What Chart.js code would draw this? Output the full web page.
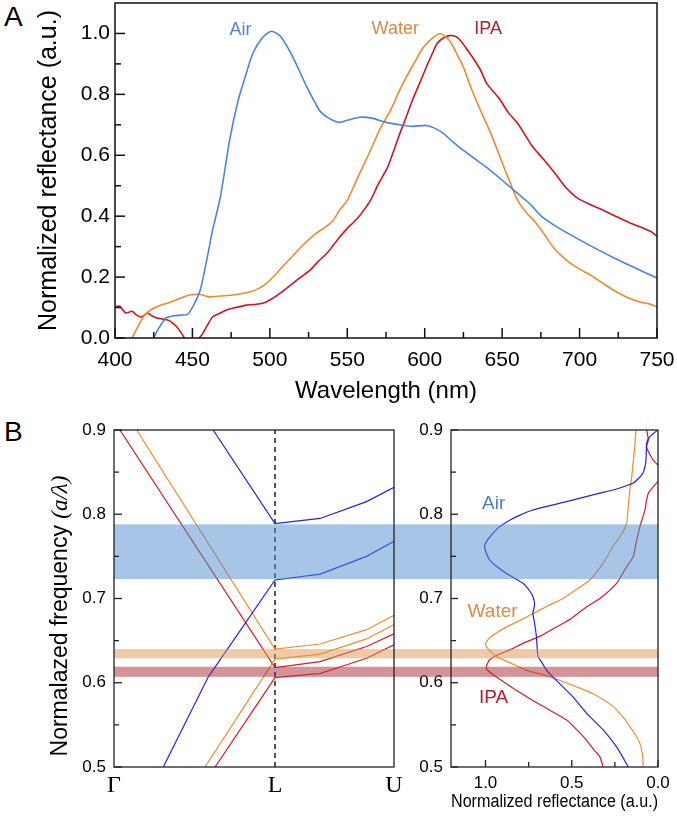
<!DOCTYPE html>
<html>
<head>
<meta charset="utf-8">
<script src="https://cdn.jsdelivr.net/npm/chart.js@4.4.0/dist/chart.umd.min.js"></script>
<style>
  body { margin: 0; background: #fff; width: 677px; height: 816px; position: relative; overflow: hidden; font-family: "Liberation Sans", Arial, sans-serif; }
  canvas { position: absolute; }
  .panel { position: absolute; font-size: 28px; line-height: 1; color: #000; }
</style>
</head>
<body>
<div class="panel" style="left:4px; top:3px">A</div>
<div class="panel" style="left:4px; top:418px">B</div>
<canvas id="grafA" width="677" height="410" style="left:0; top:0"></canvas>
<canvas id="grafB1" width="410" height="406" style="left:0; top:410px"></canvas>
<canvas id="grafB2" width="267" height="406" style="left:410px; top:410px"></canvas>
<script>
// --- DATOS PANEL A (espectros de reflectancia) ---
const airNm = [425, 428, 433, 438, 443, 447, 451, 455, 459, 463, 468, 474, 479.5, 484, 489, 495, 501, 507, 515, 524, 532, 538, 545, 550, 558, 566, 575, 584, 592, 601, 606, 612, 618, 625, 632, 640, 650, 660, 668, 676, 687, 698, 710, 721, 735, 750];
const airR  = [0, 0.03, 0.066, 0.073, 0.075, 0.078, 0.11, 0.157, 0.25, 0.354, 0.462, 0.649, 0.78, 0.856, 0.934, 0.985, 1.007, 0.99, 0.921, 0.823, 0.748, 0.722, 0.708, 0.715, 0.725, 0.722, 0.708, 0.7, 0.695, 0.698, 0.69, 0.672, 0.645, 0.616, 0.59, 0.56, 0.518, 0.475, 0.44, 0.397, 0.36, 0.328, 0.295, 0.266, 0.232, 0.197];

const waterNm = [411, 413, 416, 419, 423, 428, 434, 441, 448, 455, 461, 468, 476, 487, 493, 498, 503, 508, 514, 520, 525, 530, 536, 541, 545, 550, 557, 565, 571, 578, 583, 588, 594, 599, 605, 610, 616, 620, 625, 630, 636, 642, 647, 652, 656, 660, 666, 672, 678, 683, 690, 694, 700, 707, 715, 724, 731, 739, 745, 750];
const waterR  = [0, 0.02, 0.049, 0.075, 0.092, 0.105, 0.115, 0.128, 0.141, 0.143, 0.135, 0.138, 0.141, 0.151, 0.163, 0.18, 0.205, 0.233, 0.265, 0.298, 0.322, 0.344, 0.365, 0.387, 0.42, 0.452, 0.53, 0.616, 0.685, 0.748, 0.805, 0.856, 0.91, 0.954, 0.985, 1.0, 0.977, 0.94, 0.889, 0.82, 0.748, 0.68, 0.616, 0.55, 0.5, 0.452, 0.41, 0.377, 0.335, 0.298, 0.262, 0.246, 0.226, 0.207, 0.18, 0.151, 0.133, 0.118, 0.112, 0.102];

const ipaNm = [400, 403, 407, 411, 414, 417, 421, 424, 427, 431, 434, 437, 440, 443, 446, 450, 453, 456, 460, 463, 468, 472, 478, 485, 490, 496, 500, 505, 510, 515, 520, 526, 531, 537, 541, 545, 550, 556, 560, 565, 570, 576, 580, 584, 588, 592, 597, 601, 605, 608, 612, 616, 620, 623, 627, 631, 636, 640, 645, 649, 654, 660, 665, 670, 677, 685, 691, 698, 706, 715, 724, 733, 741, 746, 750];
const ipaR  = [0.102, 0.105, 0.082, 0.088, 0.075, 0.069, 0.082, 0.072, 0.066, 0.062, 0.059, 0.05, 0.036, 0.015, -0.01, -0.03, -0.01, 0.01, 0.045, 0.069, 0.082, 0.092, 0.1, 0.108, 0.11, 0.115, 0.125, 0.141, 0.16, 0.18, 0.2, 0.223, 0.25, 0.279, 0.305, 0.331, 0.36, 0.39, 0.415, 0.452, 0.505, 0.56, 0.615, 0.672, 0.725, 0.78, 0.84, 0.889, 0.935, 0.967, 0.985, 0.993, 0.99, 0.977, 0.95, 0.921, 0.88, 0.836, 0.805, 0.78, 0.74, 0.705, 0.665, 0.626, 0.585, 0.535, 0.495, 0.462, 0.44, 0.42, 0.398, 0.377, 0.361, 0.35, 0.334];

const wlTicks = [400, 425, 450, 475, 500, 525, 550, 575, 600, 625, 650, 675, 700, 725, 750];
const reflTicksA = [0, 0.1, 0.2, 0.3, 0.4, 0.5, 0.6, 0.7, 0.8, 0.9, 1.0];

// --- DATOS PANEL B izquierda (bandas) ---
const kPos = [0, 0.575, 1];
const kLabels = ['Γ', 'L', 'U'];
const airBandUpK = [0.354, 0.575, 0.736, 0.902, 1.0];
const airBandUpF = [0.9, 0.789, 0.795, 0.815, 0.832];
const airBandLoK = [0.176, 0.337, 0.575, 0.736, 0.902, 1.0];
const airBandLoF = [0.5, 0.607, 0.722, 0.729, 0.75, 0.768];
const waterBandUpK = [0.081, 0.575, 0.736, 0.902, 1.0];
const waterBandUpF = [0.9, 0.64, 0.646, 0.663, 0.68];
const waterBandLoK = [0.325, 0.575, 0.736, 0.902, 1.0];
const waterBandLoF = [0.5, 0.628, 0.634, 0.652, 0.669];
const ipaBandUpK = [0.021, 0.575, 0.736, 0.902, 1.0];
const ipaBandUpF = [0.9, 0.618, 0.625, 0.643, 0.658];
const ipaBandLoK = [0.361, 0.575, 0.736, 0.902, 1.0];
const ipaBandLoF = [0.5, 0.606, 0.611, 0.629, 0.645];
const freqTicks = [0.5, 0.55, 0.6, 0.65, 0.7, 0.75, 0.8, 0.85, 0.9];

// gaps (bandas prohibidas)
const gapLo = [0.723, 0.629, 0.607];
const gapHi = [0.788, 0.640, 0.619];

// --- DATOS PANEL B derecha (reflectancia vs frecuencia) ---
const airFreq = [0.9, 0.892, 0.884, 0.872, 0.86, 0.848, 0.837, 0.83, 0.825, 0.815, 0.805, 0.799, 0.793, 0.785, 0.777, 0.769, 0.762, 0.754, 0.746, 0.738, 0.73, 0.718, 0.708, 0.702, 0.694, 0.688, 0.682, 0.67, 0.655, 0.64, 0.631, 0.623, 0.615, 0.607, 0.599, 0.583, 0.564, 0.544, 0.524, 0.512, 0.5];
const airRefl = [0.002, 0.047, 0.066, 0.068, 0.072, 0.09, 0.143, 0.24, 0.337, 0.531, 0.725, 0.8, 0.86, 0.92, 0.958, 0.99, 1.006, 0.995, 0.977, 0.935, 0.88, 0.783, 0.74, 0.725, 0.715, 0.72, 0.725, 0.715, 0.705, 0.7, 0.695, 0.67, 0.647, 0.61, 0.57, 0.492, 0.415, 0.318, 0.24, 0.205, 0.173];
const waterFreq = [0.9, 0.88, 0.864, 0.845, 0.829, 0.81, 0.789, 0.775, 0.762, 0.742, 0.722, 0.711, 0.7, 0.691, 0.682, 0.674, 0.666, 0.66, 0.655, 0.65, 0.645, 0.638, 0.631, 0.623, 0.615, 0.609, 0.603, 0.595, 0.587, 0.579, 0.572, 0.56, 0.548, 0.538, 0.528, 0.515, 0.5];
const waterRefl = [0.128, 0.135, 0.143, 0.152, 0.163, 0.172, 0.182, 0.215, 0.26, 0.318, 0.395, 0.47, 0.55, 0.64, 0.725, 0.8, 0.88, 0.93, 0.967, 0.99, 1.0, 0.975, 0.938, 0.85, 0.764, 0.66, 0.57, 0.47, 0.376, 0.31, 0.26, 0.205, 0.163, 0.13, 0.105, 0.09, 0.085];
const ipaFreq = [0.9, 0.888, 0.88, 0.87, 0.864, 0.858, 0.848, 0.839, 0.832, 0.825, 0.815, 0.805, 0.785, 0.768, 0.75, 0.735, 0.718, 0.7, 0.69, 0.675, 0.665, 0.655, 0.647, 0.639, 0.633, 0.627, 0.617, 0.607, 0.599, 0.591, 0.582, 0.572, 0.556, 0.544, 0.532, 0.52, 0.512, 0.5];
const ipaRefl = [0.066, 0.056, 0.066, 0.045, 0.027, 0.0, -0.03, 0.0, 0.03, 0.056, 0.068, 0.076, 0.105, 0.125, 0.143, 0.19, 0.24, 0.337, 0.415, 0.512, 0.6, 0.686, 0.78, 0.86, 0.93, 0.977, 0.996, 0.938, 0.88, 0.822, 0.75, 0.667, 0.531, 0.47, 0.415, 0.37, 0.337, 0.318];
const reflTicksB = [0, 0.25, 0.5, 0.75, 1.0];

// --- ESTILO ---
const SANS = '"Liberation Sans", Arial, sans-serif';
const SERIF = '"Liberation Serif", "Times New Roman", serif';
const colAirA = '#4a84e2', colWaterA = '#ec8b2c', colIpaA = '#cf1420';
const colAirB = '#2323dc', colWaterB = '#f08c30', colIpaB = '#d41c22';
const gapColors = ['rgba(80,140,205,0.5)', 'rgba(222,150,80,0.5)', 'rgba(170,40,50,0.5)'];

const pts = (xs, ys) => xs.map((x, i) => ({ x: x, y: ys[i] }));
const linea = (data, color, width, tension) => ({ data: data, borderColor: color, borderWidth: width, showLine: true, pointRadius: 0, fill: false, tension: tension || 0 });

// plugin: marco, ticks hacia dentro, gaps y etiquetas de texto
const marcoPlugin = {
  id: 'marco',
  afterDatasetsDraw(chart, args, opts) {
    if (!opts.gaps) return;
    const { ctx, chartArea: a } = chart;
    const sy = chart.scales.y;
    const x0 = opts.gaps === 'right' ? a.left : 0;
    const x1 = opts.gaps === 'right' ? chart.width : a.right;
    ctx.save();
    gapLo.forEach((lo, i) => {
      const yTop = sy.getPixelForValue(gapHi[i]);
      const yBot = sy.getPixelForValue(lo);
      ctx.fillStyle = gapColors[i];
      ctx.fillRect(x0, yTop, x1 - x0, yBot - yTop);
    });
    ctx.restore();
  },
  afterDraw(chart, args, opts) {
    const { ctx, chartArea: a } = chart;
    ctx.save();
    ctx.strokeStyle = opts.color || '#111';
    ctx.lineWidth = opts.width || 1.4;
    ctx.strokeRect(a.left, a.top, a.right - a.left, a.bottom - a.top);
    ['x', 'y'].forEach(ax => {
      if (opts.noTicks === ax) return;
      const s = chart.scales[ax];
      s.ticks.forEach(t => {
        const len = t.label !== '' ? opts.major : opts.minor;
        const p = s.getPixelForValue(t.value);
        ctx.beginPath();
        if (ax === 'x') { ctx.moveTo(p, a.bottom); ctx.lineTo(p, a.bottom - len); }
        else { ctx.moveTo(a.left, p); ctx.lineTo(a.left + len, p); }
        ctx.stroke();
      });
    });
    (opts.labels || []).forEach(l => {
      ctx.font = l.size + 'px ' + SANS;
      ctx.fillStyle = l.color;
      ctx.textAlign = 'center';
      ctx.textBaseline = 'middle';
      ctx.fillText(l.text, chart.scales.x.getPixelForValue(l.x), chart.scales.y.getPixelForValue(l.y));
    });
    ctx.restore();
  }
};
Chart.register(marcoPlugin);

const fijarEje = (size, horizontal) => s => {
  if (horizontal) s.height = size; else s.width = size;
  s.paddingTop = 0; s.paddingBottom = 0; s.paddingLeft = 0; s.paddingRight = 0;
};
const ponerTicks = lista => s => { s.ticks = lista.map(v => ({ value: v })); };
const comun = { responsive: false, animation: false, devicePixelRatio: 1 };

// --- PANEL A ---
new Chart(document.getElementById('grafA'), {
  type: 'scatter',
  data: { datasets: [
    linea(pts(airNm, airR), colAirA, 1.6, 0.25),
    linea(pts(waterNm, waterR), colWaterA, 1.6, 0.25),
    linea(pts(ipaNm, ipaR), colIpaA, 1.6, 0.25)
  ] },
  options: {
    ...comun,
    layout: { padding: { left: 0, right: 20, top: 3, bottom: 0 } },
    plugins: {
      legend: { display: false }, tooltip: { enabled: false },
      marco: { color: '#111', width: 1.5, major: 10, minor: 6, labels: [
        { text: 'Air', x: 481, y: 1.01, color: '#5482cc', size: 18 },
        { text: 'Water', x: 581, y: 1.013, color: '#d88a48', size: 18 },
        { text: 'IPA', x: 641, y: 1.013, color: '#a8222d', size: 18 }
      ] }
    },
    scales: {
      x: {
        type: 'linear', min: 400, max: 750,
        afterBuildTicks: ponerTicks(wlTicks), afterFit: fijarEje(72, true),
        grid: { display: false, drawTicks: false }, border: { display: false },
        ticks: { autoSkip: false, maxRotation: 0, padding: 10, color: '#000', font: { family: SANS, size: 21 },
          callback: v => (v % 50 === 0 ? String(v) : '') },
        title: { display: true, text: 'Wavelength (nm)', color: '#000', font: { family: SANS, size: 24 }, padding: { top: 0, bottom: 4 } }
      },
      y: {
        min: 0, max: 1.1,
        afterBuildTicks: ponerTicks(reflTicksA), afterFit: fijarEje(115, false),
        grid: { display: false, drawTicks: false }, border: { display: false },
        ticks: { autoSkip: false, padding: 5, color: '#000', font: { family: SANS, size: 21 },
          callback: v => (Math.round(v * 10) % 2 === 0 ? v.toFixed(1) : '') },
        title: { display: true, text: 'Normalized reflectance (a.u.)', color: '#000', font: { family: SANS, size: 25 }, padding: { top: 34, bottom: 0 } }
      }
    }
  }
});

// --- PANEL B izquierda ---
const tituloFrecuencia = {
  id: 'tituloFrecuencia',
  afterDraw(chart) {
    const ctx = chart.ctx;
    const partes = [
      { t: 'Normalazed frequency ', f: '23px ' + SANS },
      { t: '(a/λ)', f: 'italic 23px ' + SERIF }
    ];
    ctx.save();
    let total = 0;
    partes.forEach(p => { ctx.font = p.f; p.w = ctx.measureText(p.t).width; total += p.w; });
    ctx.translate(67, 206);
    ctx.rotate(-Math.PI / 2);
    ctx.fillStyle = '#000';
    ctx.textBaseline = 'alphabetic';
    ctx.textAlign = 'left';
    let x = -total / 2;
    partes.forEach(p => { ctx.font = p.f; ctx.fillText(p.t, x, 0); x += p.w; });
    ctx.restore();
  }
};

new Chart(document.getElementById('grafB1'), {
  type: 'scatter',
  data: { datasets: [
    linea(pts(airBandUpK, airBandUpF), colAirB, 1.2),
    linea(pts(airBandLoK, airBandLoF), colAirB, 1.2),
    linea(pts(waterBandUpK, waterBandUpF), colWaterB, 1.2),
    linea(pts(waterBandLoK, waterBandLoF), colWaterB, 1.2),
    linea(pts(ipaBandUpK, ipaBandUpF), colIpaB, 1.2),
    linea(pts(ipaBandLoK, ipaBandLoF), colIpaB, 1.2),
    { ...linea([{ x: kPos[1], y: 0.5 }, { x: kPos[1], y: 0.9 }], '#111', 1.4), borderDash: [5, 4] }
  ] },
  options: {
    ...comun,
    layout: { padding: { left: 0, right: 16, top: 20, bottom: 0 } },
    plugins: {
      legend: { display: false }, tooltip: { enabled: false },
      marco: { color: '#222', width: 1.3, major: 8, minor: 5, noTicks: 'x', gaps: 'right' }
    },
    scales: {
      x: {
        type: 'linear', min: 0, max: 1,
        afterBuildTicks: ponerTicks(kPos), afterFit: fijarEje(49, true),
        grid: { display: false, drawTicks: false }, border: { display: false },
        ticks: { autoSkip: false, maxRotation: 0, padding: 4, color: '#000', font: { family: SERIF, size: 24 },
          callback: (v, i) => kLabels[i] }
      },
      y: {
        min: 0.5, max: 0.9,
        afterBuildTicks: ponerTicks(freqTicks), afterFit: fijarEje(114, false),
        grid: { display: false, drawTicks: false }, border: { display: false },
        ticks: { autoSkip: false, padding: 8, color: '#000', font: { family: SANS, size: 17 },
          callback: v => (Math.round(v * 100) % 10 === 0 ? v.toFixed(1) : '') }
      }
    }
  },
  plugins: [tituloFrecuencia]
});

// --- PANEL B derecha ---
new Chart(document.getElementById('grafB2'), {
  type: 'scatter',
  data: { datasets: [
    linea(pts(airRefl, airFreq), colAirB, 1.2, 0.2),
    linea(pts(waterRefl, waterFreq), colWaterB, 1.2, 0.2),
    linea(pts(ipaRefl, ipaFreq), colIpaB, 1.2, 0.2)
  ] },
  options: {
    ...comun,
    layout: { padding: { left: 0, right: 19, top: 20, bottom: 0 } },
    plugins: {
      legend: { display: false }, tooltip: { enabled: false },
      marco: { color: '#222', width: 1.3, major: 7, minor: 5, gaps: 'left', labels: [
        { text: 'Air', x: 0.953, y: 0.813, color: '#4f7fc2', size: 19 },
        { text: 'Water', x: 0.959, y: 0.684, color: '#da8a46', size: 19 },
        { text: 'IPA', x: 0.953, y: 0.582, color: '#b0202a', size: 19 }
      ] }
    },
    scales: {
      x: {
        type: 'linear', min: 0, max: 1.2, reverse: true,
        afterBuildTicks: ponerTicks(reflTicksB), afterFit: fijarEje(49, true),
        grid: { display: false, drawTicks: false }, border: { display: false },
        ticks: { autoSkip: false, maxRotation: 0, padding: 6, color: '#000', font: { family: SANS, size: 17 },
          callback: v => (Math.round(v * 100) % 50 === 0 ? v.toFixed(1) : '') },
        title: { display: true, text: 'Normalized reflectance (a.u.)', color: '#000', font: { family: SANS, size: 18 }, padding: { top: 0, bottom: 3 } }
      },
      y: {
        min: 0.5, max: 0.9,
        afterBuildTicks: ponerTicks(freqTicks), afterFit: fijarEje(41, false),
        grid: { display: false, drawTicks: false }, border: { display: false },
        ticks: { autoSkip: false, padding: 8, color: '#000', font: { family: SANS, size: 17 },
          callback: v => (Math.round(v * 100) % 10 === 0 ? v.toFixed(1) : '') }
      }
    }
  }
});
</script>
</body>
</html>
